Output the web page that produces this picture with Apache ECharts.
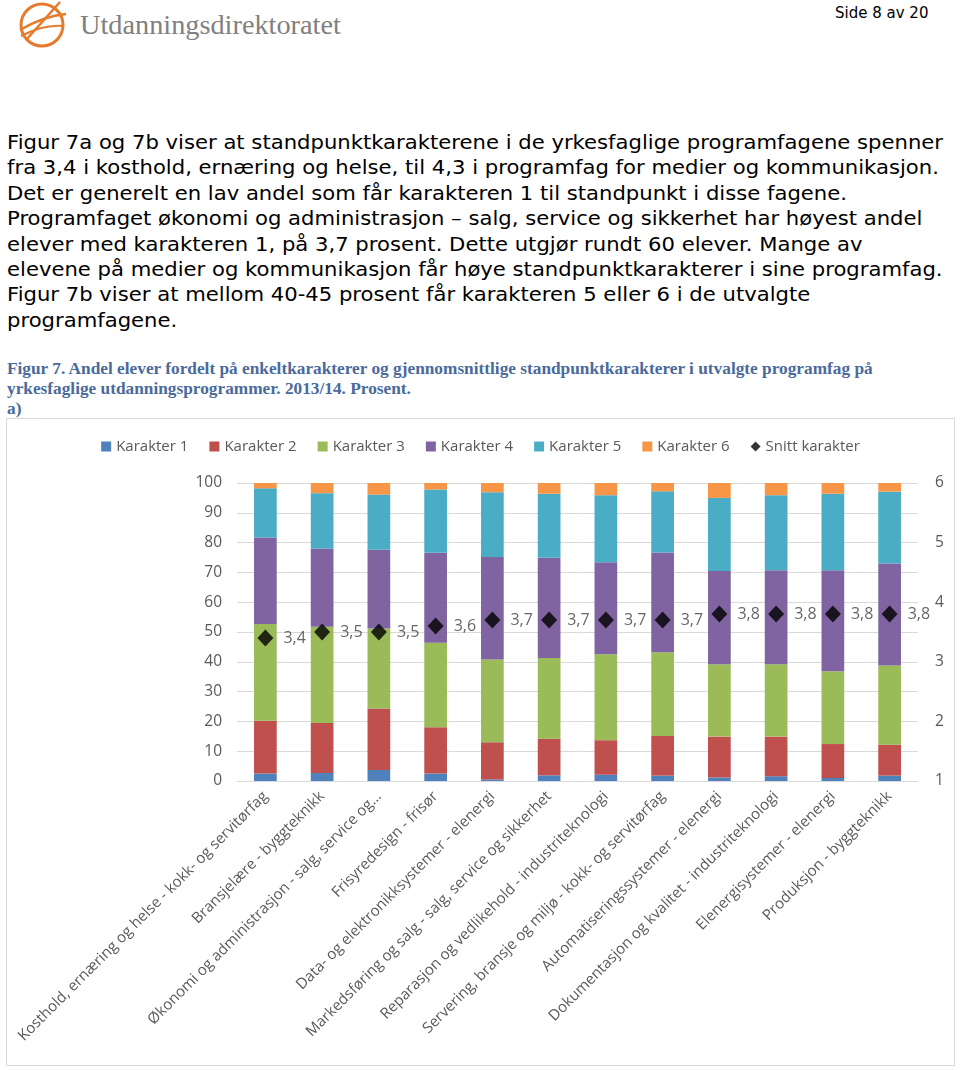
<!DOCTYPE html>
<html>
<head>
<meta charset="utf-8">
<script src="https://cdn.jsdelivr.net/npm/echarts@6/dist/echarts.min.js"></script>
<style>
  html, body { margin: 0; padding: 0; background: #fff; }
  body { width: 960px; height: 1070px; position: relative; overflow: hidden; }
  .abs { position: absolute; white-space: nowrap; }
  .para { font-family: "DejaVu Sans", Verdana, sans-serif; font-size: 19px; line-height: 25.4px; color: #000; left: 7px; transform: scaleX(1.113); transform-origin: 0 0; }
  .cap { font-family: "Liberation Serif", "Times New Roman", serif; font-weight: bold; font-size: 17.3px; line-height: 20px; color: #4a6a9c; left: 7px; }
  #box { position: absolute; left: 6px; top: 418px; width: 949px; height: 648px; border: 1px solid #d9d9d9; box-sizing: border-box; }
  #chart { position: absolute; left: 0; top: 0; width: 947px; height: 646px; }
</style>
</head>
<body>
<svg class="abs" style="left:14px;top:0px" width="60" height="52" viewBox="0 0 60 52">
  <circle cx="28" cy="25" r="21" fill="none" stroke="#e57b2c" stroke-width="3"/>
  <path d="M6 30 Q30 16 52 14" fill="none" stroke="#e57b2c" stroke-width="2.5"/>
  <path d="M7 36 Q30 24 50 26" fill="none" stroke="#e57b2c" stroke-width="2"/>
  <path d="M12 40 L46 2" fill="none" stroke="#e57b2c" stroke-width="2.5"/>
</svg>
<div class="abs" style="left:80px;top:9px;font-family:'Liberation Serif',serif;font-size:28.3px;color:#808080;">Utdanningsdirektoratet</div>
<div class="abs" style="left:835px;top:4px;font-family:'DejaVu Sans',Verdana,sans-serif;font-size:15px;color:#000;">Side 8 av 20</div>

<div class="abs para" style="top:130px">Figur 7a og 7b viser at standpunktkarakterene i de yrkesfaglige programfagene spenner</div>
<div class="abs para" style="top:155.4px">fra 3,4 i kosthold, ernæring og helse, til 4,3 i programfag for medier og kommunikasjon.</div>
<div class="abs para" style="top:180.8px">Det er generelt en lav andel som får karakteren 1 til standpunkt i disse fagene.</div>
<div class="abs para" style="top:206.2px">Programfaget økonomi og administrasjon – salg, service og sikkerhet har høyest andel</div>
<div class="abs para" style="top:231.6px">elever med karakteren 1, på 3,7 prosent. Dette utgjør rundt 60 elever. Mange av</div>
<div class="abs para" style="top:257px">elevene på medier og kommunikasjon får høye standpunktkarakterer i sine programfag.</div>
<div class="abs para" style="top:282.4px">Figur 7b viser at mellom 40-45 prosent får karakteren 5 eller 6 i de utvalgte</div>
<div class="abs para" style="top:307.8px">programfagene.</div>

<div class="abs cap" style="top:359px">Figur 7. Andel elever fordelt på enkeltkarakterer og gjennomsnittlige standpunktkarakterer i utvalgte programfag på</div>
<div class="abs cap" style="top:379px">yrkesfaglige utdanningsprogrammer. 2013/14. Prosent.</div>
<div class="abs cap" style="top:399px">a)</div>

<div id="box"><div id="chart"></div></div>

<script>
var categories = [
  "Kosthold, ernæring og helse - kokk- og servitørfag",
  "Bransjelære - byggteknikk",
  "Økonomi og administrasjon - salg, service og…",
  "Frisyredesign - frisør",
  "Data- og elektronikksystemer - elenergi",
  "Markedsføring og salg - salg, service og sikkerhet",
  "Reparasjon og vedlikehold - industriteknologi",
  "Servering, bransje og miljø - kokk- og servitørfag",
  "Automatiseringssystemer - elenergi",
  "Dokumentasjon og kvalitet - industriteknologi",
  "Elenergisystemer - elenergi",
  "Produksjon - byggteknikk"
];
var karakter1 = [2.5, 2.7, 3.7, 2.5, 0.5, 1.9, 2.1, 1.8, 1.2, 1.6, 1.0, 1.8];
var karakter2 = [17.7, 16.8, 20.6, 15.5, 12.5, 12.3, 11.6, 13.3, 13.7, 13.3, 11.4, 10.4];
var karakter3 = [32.5, 32.3, 26.9, 28.4, 27.8, 27.1, 28.8, 28.1, 24.3, 24.3, 24.4, 26.6];
var karakter4 = [29.0, 26.2, 26.4, 30.2, 34.4, 33.6, 30.9, 33.5, 31.3, 31.5, 33.9, 34.2];
var karakter5 = [16.5, 18.6, 18.5, 21.2, 21.7, 21.5, 22.5, 20.5, 24.5, 25.2, 25.7, 24.1];
var karakter6 = [1.8, 3.4, 3.9, 2.2, 3.1, 3.6, 4.1, 2.8, 5.0, 4.1, 3.6, 2.9];
var snitt = [3.4, 3.5, 3.5, 3.6, 3.7, 3.7, 3.7, 3.7, 3.8, 3.8, 3.8, 3.8];
var leftTicks = { min: 0, max: 100, interval: 10 };
var rightTicks = { min: 1, max: 6, interval: 1 };

var names = ["Karakter 1", "Karakter 2", "Karakter 3", "Karakter 4", "Karakter 5", "Karakter 6"];
var colors = ["#4f81bd", "#c0504d", "#9bbb59", "#8064a2", "#4bacc6", "#f79646"];
var dataSets = [karakter1, karakter2, karakter3, karakter4, karakter5, karakter6];
var font = "'Open Sans', sans-serif";
var textColor = "#595959";

var series = dataSets.map(function (d, i) {
  return {
    name: names[i], type: "bar", stack: "total", data: d,
    barWidth: "40%", itemStyle: { color: colors[i] }, emphasis: { disabled: true }
  };
});
series.push({
  name: "Snitt karakter", type: "scatter", yAxisIndex: 1, data: snitt,
  symbol: "diamond", symbolSize: [16, 17], itemStyle: { color: "#000" }, z: 5,
  label: {
    show: true, position: "right", distance: 10, color: "#404040",
    fontFamily: font, fontSize: 16,
    formatter: function (p) { return p.value.toFixed(1).replace(".", ","); }
  }
});

var chart = echarts.init(document.getElementById("chart"), null, { renderer: "canvas" });
chart.setOption({
  animation: false,
  color: colors.concat(["#000"]),
  legend: {
    top: 15, left: "center", itemWidth: 10, itemHeight: 10, itemGap: 21,
    textStyle: { fontFamily: font, fontSize: 15, color: textColor },
    data: names.map(function (n) { return { name: n, icon: "rect" }; }).concat([{ name: "Snitt karakter", icon: "diamond" }])
  },
  grid: { left: 230, right: 36, top: 64, bottom: 284, containLabel: false },
  xAxis: {
    type: "category", data: categories,
    axisLine: { lineStyle: { color: "#d9d9d9" } },
    axisTick: { show: false },
    axisLabel: { rotate: 45, interval: 0, margin: 13, fontFamily: font, fontSize: 15, color: textColor }
  },
  yAxis: [
    {
      type: "value", min: leftTicks.min, max: leftTicks.max, interval: leftTicks.interval,
      axisLine: { show: false }, axisTick: { show: false },
      axisLabel: { margin: 15, fontFamily: font, fontSize: 15.5, color: textColor },
      splitLine: { lineStyle: { color: "#d9d9d9" } }
    },
    {
      type: "value", min: rightTicks.min, max: rightTicks.max, interval: rightTicks.interval,
      axisLine: { show: false }, axisTick: { show: false },
      axisLabel: { margin: 17, fontFamily: font, fontSize: 15.5, color: textColor },
      splitLine: { show: false }
    }
  ],
  series: series
});
</script>
</body>
</html>
